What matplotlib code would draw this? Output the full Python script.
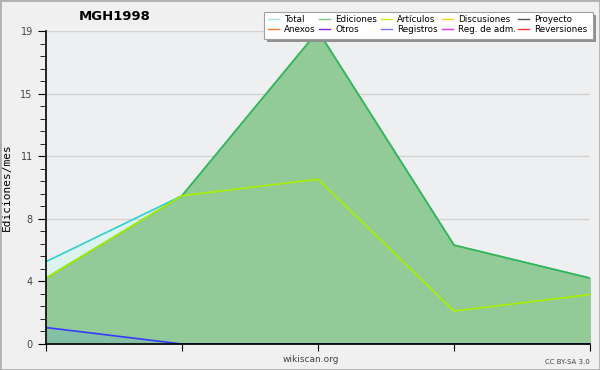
import numpy as np
import matplotlib.pyplot as plt
from matplotlib.patches import Rectangle

# Data (monthly edits)
months = [0, 1, 2, 3, 4]
total = [5, 9, 19, 6, 4]
ediciones = [4, 9, 19, 6, 4]
articulos = [4, 9, 10, 2, 3]
registros = [1, 0, 0, 0, 0]

legend_labels = ["Total", "Ediciones", "Artículos", "Discusiones", "Proyecto",
                 "Anexos", "Otros", "Registros", "Reg. de adm.", "Reversiones"]
legend_colors = ["#a8e4e4", "#7cc47c", "#c4f020", "#ffcc22", "#555555",
                 "#ff7733", "#8822dd", "#7777ff", "#dd33ee", "#ff3333"]

fig = plt.figure(figsize=(6, 3.7), dpi=100, facecolor="#f0f0f0")
ax = fig.add_axes([46/600, 26/370, 544/600, 313/370])
ax.set_facecolor("#eeeff0")

# fills
ax.fill_between(months, 0, total, color="#dcf2ee", zorder=1)
ax.fill_between(months, 0, ediciones, color="#92cb98", zorder=2)
ax.fill_between(months, 0, registros, color="#84c0a4", zorder=3)

# lines
ax.plot(months, total, color="#30d0d0", lw=1.2, zorder=4)
ax.plot(months, ediciones, color="#3cb44b", lw=1.2, zorder=5)
ax.plot(months, articulos, color="#aaee00", lw=1.2, zorder=6)
ax.plot(months, registros, color="#3a3aff", lw=1.2, zorder=7)

ymax = 19
ax.set_xlim(0, 4)
ax.set_ylim(0, ymax)
major = np.linspace(0, ymax, 6)
ax.set_yticks(major)
ax.set_yticklabels([f"{v:.0f}" for v in major])
ax.set_yticks(np.linspace(0, ymax, 26), minor=True)
ax.set_xticks(months)
ax.set_xticklabels([])
ax.grid(axis="y", which="major", color="#c0c0c0", lw=1)
for g in ax.get_ygridlines():
    g.set_zorder(3.5)
    g.set_alpha(0.6)

for s in ["top", "right"]:
    ax.spines[s].set_visible(False)
ax.spines["left"].set_linewidth(1.2)
ax.spines["bottom"].set_linewidth(1.2)
ax.spines["left"].set_zorder(10)
ax.spines["bottom"].set_zorder(10)
ax.tick_params(axis="y", which="major", length=6, labelsize=7, labelcolor="#444444")
ax.tick_params(axis="y", which="minor", length=4)
ax.tick_params(axis="x", which="major", length=5)

ax.set_ylabel("Ediciones/mes", family="DejaVu Sans Mono", fontsize=8)
ax.yaxis.set_label_coords(-0.062, 0.5)

fig.text(115/600, 1 - 17/370, "MGH1998", fontsize=9.5, fontweight="bold",
         ha="center", va="center")
fig.text(311/600, 1 - 360/370, "wikiscan.org", fontsize=6.5, color="#444444",
         ha="center", va="center")
fig.text(590/600, 1 - 362/370, "CC BY-SA 3.0", fontsize=5, color="#444444",
         ha="right", va="center")

# legend box with shadow
lx0, ly0, lw, lh = 264, 12, 329, 27
fig.patches.append(Rectangle(((lx0 + 3)/600, 1 - (ly0 + lh + 3)/370), lw/600, lh/370,
                             transform=fig.transFigure, facecolor="#909090",
                             edgecolor="none", zorder=20))
fig.patches.append(Rectangle((lx0/600, 1 - (ly0 + lh)/370), lw/600, lh/370,
                             transform=fig.transFigure, facecolor="white",
                             edgecolor="#a0a0a0", lw=0.8, zorder=21))
col_x = [268, 319, 381, 442, 518]
row_y = [19, 29]
for i, (lab, col) in enumerate(zip(legend_labels, legend_colors)):
    r, c = divmod(i, 5)
    x = col_x[c]
    y = row_y[r]
    fig.lines.append(plt.Line2D([x/600, (x + 11)/600], [1 - y/370, 1 - y/370],
                                transform=fig.transFigure, color=col, lw=1, zorder=22))
    fig.text((x + 16)/600, 1 - y/370, lab, fontsize=6.3, ha="left", va="center",
             zorder=23)

# outer border
fig.patches.append(Rectangle((0, 0), 1, 1, transform=fig.transFigure,
                             facecolor="none", edgecolor="#b0b0b0", lw=2, zorder=30))

fig.savefig("out.png", dpi=100, facecolor=fig.get_facecolor())
